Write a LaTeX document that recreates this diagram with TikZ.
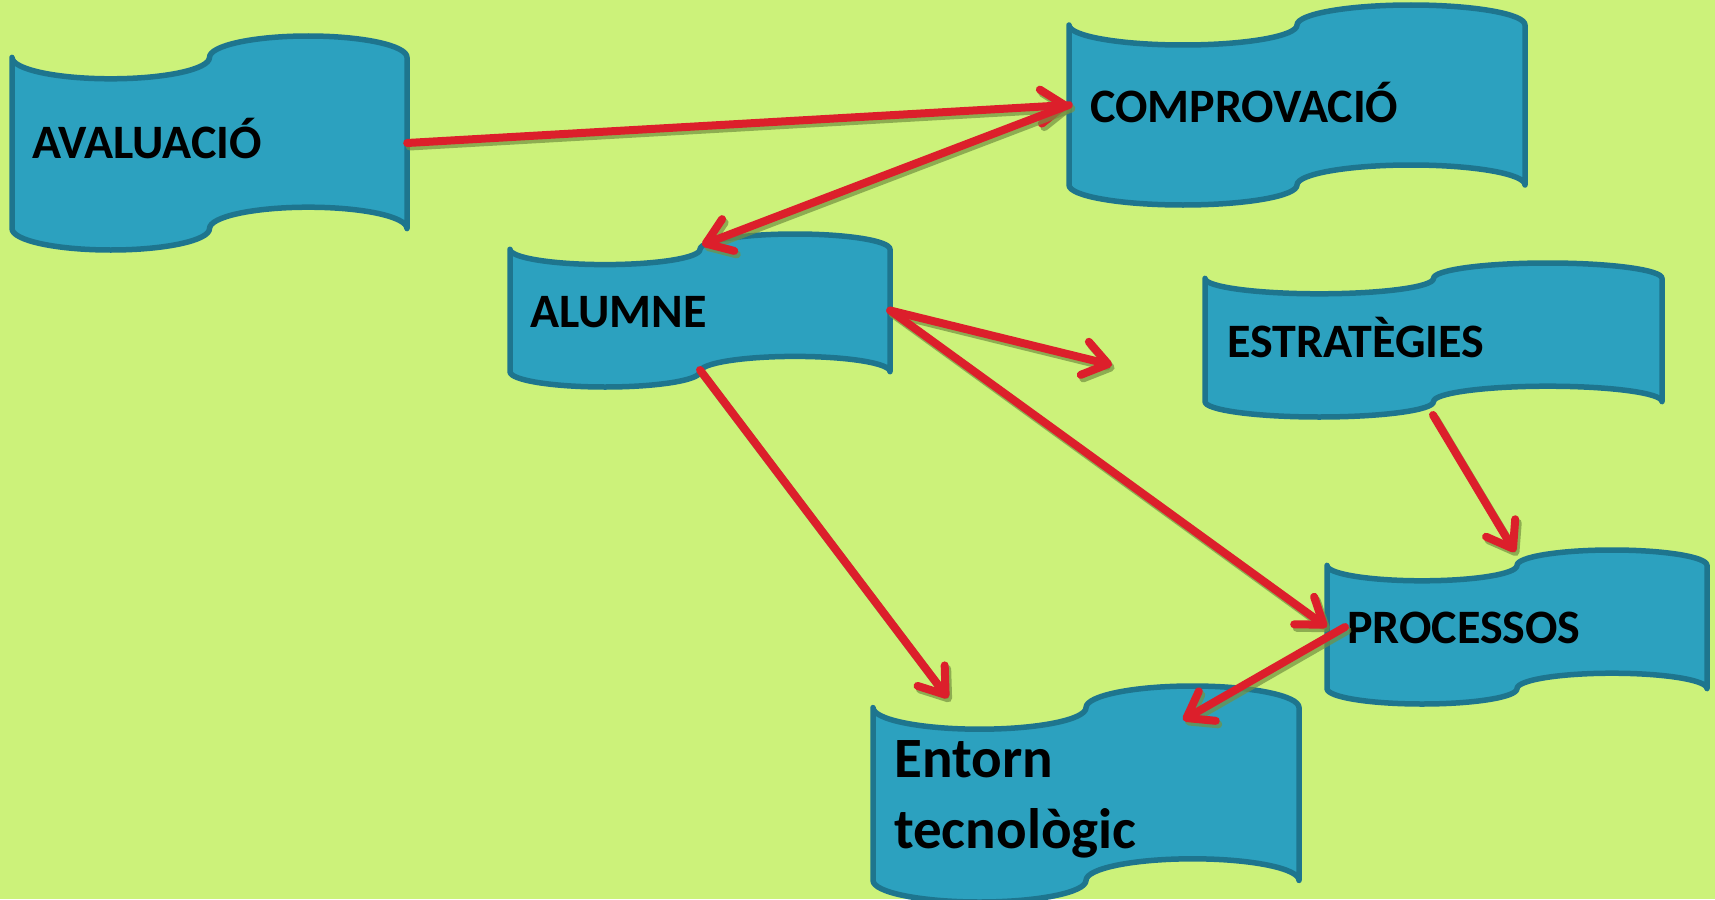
\documentclass[tikz,border=0pt]{standalone}
\usepackage{fontspec}
\setmainfont{Carlito}
\usetikzlibrary{arrows.meta}
\definecolor{bg}{RGB}{204,242,122}
\definecolor{tapefill}{RGB}{44,161,191}
\definecolor{tapeline}{RGB}{30,117,142}
\definecolor{arr}{RGB}{220,31,43}
\definecolor{shad}{RGB}{115,145,65}
\tikzset{
  tapestyle/.style={fill=tapefill, draw=tapeline, line width=5.5pt, line join=round},
  lbl/.style={font=\bfseries\fontsize{48}{70}\selectfont, text=black, inner sep=0pt, align=left},
  biglbl/.style={lbl, font=\bfseries\fontsize{57}{71}\selectfont},
  conn/.style={draw=arr, line width=8pt, line cap=round, line join=round,
    -{Straight Barb[length=24pt,width=34pt,round]}},
  connshadow/.style={conn, draw=shad, opacity=0.7, transform canvas={shift={(2.5pt,-3.5pt)}}}
}
\newcommand\tapebox[5]{%
  \pgfmathsetmacro\tpa{#5/10}%
  \pgfmathsetmacro\tpr{#4/4}%
  \pgfmathsetmacro\tpv{0.8*#5}%
  \draw[tapestyle] (#2,#3+\tpa)
    arc[start angle=180,end angle=360,x radius=\tpr pt,y radius=\tpa pt]
    arc[start angle=180,end angle=0,x radius=\tpr pt,y radius=\tpa pt]
    -- ++(0,\tpv)
    arc[start angle=0,end angle=180,x radius=\tpr pt,y radius=\tpa pt]
    arc[start angle=0,end angle=-180,x radius=\tpr pt,y radius=\tpa pt]
    -- cycle;
  \node[inner sep=0pt, minimum width=#4pt, minimum height=#5pt] (#1) at (#2+#4/2,#3+#5/2) {};
}
\newcommand\linkarrow[2]{%
  \draw[connshadow] (#1) -- (#2);
  \draw[conn] (#1) -- (#2);
}
\begin{document}
\begin{tikzpicture}[x=1pt,y=-1pt]
\useasboundingbox (0,0) rectangle (1715,899);
\fill[bg] (0,0) rectangle (1715,899);

\tapebox{aval}{12}{36}{395}{214}
\tapebox{comp}{1069}{5}{456}{200}
\tapebox{alum}{510}{234}{380}{153}
\tapebox{estr}{1205}{263}{457}{154}
\tapebox{proc}{1327}{550}{380}{154}
\tapebox{ento}{873}{686}{426}{216}

\node[lbl, anchor=base west] (taval) at (32,158) {AVALUACIÓ};
\node[lbl, anchor=base west] (tcomp) at (1090,122) {COMPROVACIÓ};
\node[lbl, anchor=base west] (talum) at (530,327) {ALUMNE};
\node[lbl, anchor=base west] (testr) at (1227,357) {ESTRATÈGIES};
\node[lbl, anchor=base west] (tproc) at (1347,643) {PROCESSOS};
\node[biglbl, anchor=base west] (tento) at (894,848) {Entorn\\tecnològic};

\coordinate (alumtop) at (702,245);
\coordinate (alumbot) at (700,370);
\coordinate (free) at (1112,365);
\coordinate (entotop) at (948,698);
\coordinate (estrbot) at (1433,415);
\coordinate (proctop) at (1515,552);
\coordinate (procin) at (1345,627);
\coordinate (entoin) at (1183,720);

\linkarrow{aval.east}{comp.west}
\linkarrow{comp.west}{alumtop}
\linkarrow{alum.east}{free}
\linkarrow{alum.east}{proc.west}
\linkarrow{alumbot}{entotop}
\linkarrow{estrbot}{proctop}
\linkarrow{procin}{entoin}
\end{tikzpicture}
\end{document}
